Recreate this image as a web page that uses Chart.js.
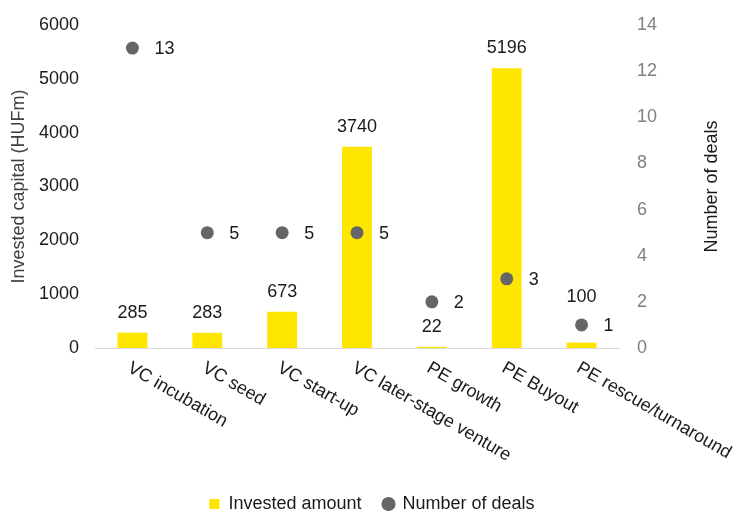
<!DOCTYPE html>
<html>
<head>
<meta charset="utf-8">
<script src="https://cdn.jsdelivr.net/npm/chart.js@4.4.1/dist/chart.umd.min.js"></script>
<style>
  html, body { margin: 0; padding: 0; background: #ffffff; }
  #wrap { width: 744px; height: 511px; position: relative; }
</style>
</head>
<body>
<div id="wrap"><canvas id="c" width="744" height="511"></canvas></div>
<script>
const categories = ['VC incubation', 'VC seed', 'VC start-up', 'VC later-stage venture', 'PE growth', 'PE Buyout', 'PE rescue/turnaround'];
const investedAmount = [285, 283, 673, 3740, 22, 5196, 100];
const numberOfDeals = [13, 5, 5, 5, 2, 3, 1];
const leftAxisMax = 6000, leftAxisStep = 1000;
const rightAxisMax = 14, rightAxisStep = 2;
const leftAxisTitle = 'Invested capital (HUFm)';
const rightAxisTitle = 'Number of deals';

const FONT = '"Liberation Sans", Arial, sans-serif';

const labelPlugin = {
  id: 'labels',
  afterDatasetsDraw(chart) {
    const ctx = chart.ctx;
    ctx.save();
    ctx.font = '18px ' + FONT;
    ctx.fillStyle = '#1a1a1a';
    const barMeta = chart.getDatasetMeta(0);
    const ptMeta = chart.getDatasetMeta(1);
    // bar value labels (raised above the marker when they would collide)
    barMeta.data.forEach((el, i) => {
      const txt = String(investedAmount[i]);
      const w = ctx.measureText(txt).width;
      let y = el.y - 15;
      const p = ptMeta.data[i];
      if (p && Math.abs(p.x - el.x) < w / 2 + 7 && p.y + 7 > y - 14 && p.y - 7 < y + 2) {
        y = p.y - 23;
      }
      ctx.textAlign = 'center';
      ctx.textBaseline = 'alphabetic';
      ctx.fillText(txt, el.x, y);
    });
    // point value labels
    ptMeta.data.forEach((el, i) => {
      ctx.textAlign = 'left';
      ctx.textBaseline = 'middle';
      ctx.fillText(String(numberOfDeals[i]), el.x + 22, el.y + 1);
    });
    // rotated category labels
    const xs = chart.scales.x;
    categories.forEach((c, i) => {
      const x = xs.getPixelForValue(i);
      ctx.save();
      ctx.translate(x + 1, xs.top + 11);
      ctx.rotate(30 * Math.PI / 180);
      ctx.textAlign = 'left';
      ctx.textBaseline = 'top';
      ctx.fillText(c, 0, 0);
      ctx.restore();
    });
    // right axis title, reading bottom-to-top
    const ya = chart.scales.y1;
    ctx.save();
    ctx.translate(712, (ya.top + ya.bottom) / 2);
    ctx.rotate(-Math.PI / 2);
    ctx.textAlign = 'center';
    ctx.textBaseline = 'middle';
    ctx.fillStyle = '#1a1a1a';
    ctx.fillText(rightAxisTitle, 0, 0);
    ctx.restore();
    ctx.restore();
  }
};

new Chart(document.getElementById('c'), {
  data: {
    labels: categories,
    datasets: [
      {
        type: 'bar',
        label: 'Invested amount',
        data: investedAmount,
        backgroundColor: '#FFE600',
        borderWidth: 0,
        barPercentage: 0.4,
        categoryPercentage: 1.0,
        yAxisID: 'y',
        pointStyle: 'rect',
        order: 2
      },
      {
        type: 'line',
        label: 'Number of deals',
        data: numberOfDeals,
        showLine: false,
        pointRadius: 6.5,
        pointHoverRadius: 6.5,
        pointBackgroundColor: '#666666',
        pointBorderColor: '#666666',
        backgroundColor: '#666666',
        borderColor: '#666666',
        pointBorderWidth: 0,
        yAxisID: 'y1',
        pointStyle: 'circle',
        order: 1
      }
    ]
  },
  options: {
    responsive: false,
    animation: false,
    layout: { padding: { top: 25, left: 0, right: 0, bottom: -12 } },
    plugins: {
      tooltip: { enabled: false },
      legend: {
        position: 'bottom',
        labels: {
          usePointStyle: true,
          boxWidth: 10,
          boxHeight: 10,
          padding: 22,
          color: '#1a1a1a',
          font: { size: 18, family: FONT },
          sort: (a, b) => a.datasetIndex - b.datasetIndex
        }
      }
    },
    scales: {
      x: {
        offset: true,
        grid: { display: false },
        border: { display: true, color: '#d9d9d9', width: 1 },
        ticks: { display: false },
        afterFit(s) { s.height = 125; }
      },
      y: {
        position: 'left',
        min: 0, max: leftAxisMax,
        grid: { display: false },
        border: { display: false },
        ticks: { stepSize: leftAxisStep, color: '#1a1a1a', padding: 8, font: { size: 18, family: FONT }, callback: v => String(v) },
        title: { display: true, text: leftAxisTitle, color: '#404040', font: { size: 18, family: FONT }, padding: { top: 8, bottom: 0 } },
        afterFit(s) { s.width = 95; }
      },
      y1: {
        position: 'right',
        min: 0, max: rightAxisMax,
        grid: { display: false },
        border: { display: false },
        ticks: { stepSize: rightAxisStep, color: '#808080', padding: 10, font: { size: 18, family: FONT }, callback: v => String(v) },
        afterFit(s) { s.width = 125; }
      }
    }
  },
  plugins: [labelPlugin]
});
</script>
</body>
</html>
